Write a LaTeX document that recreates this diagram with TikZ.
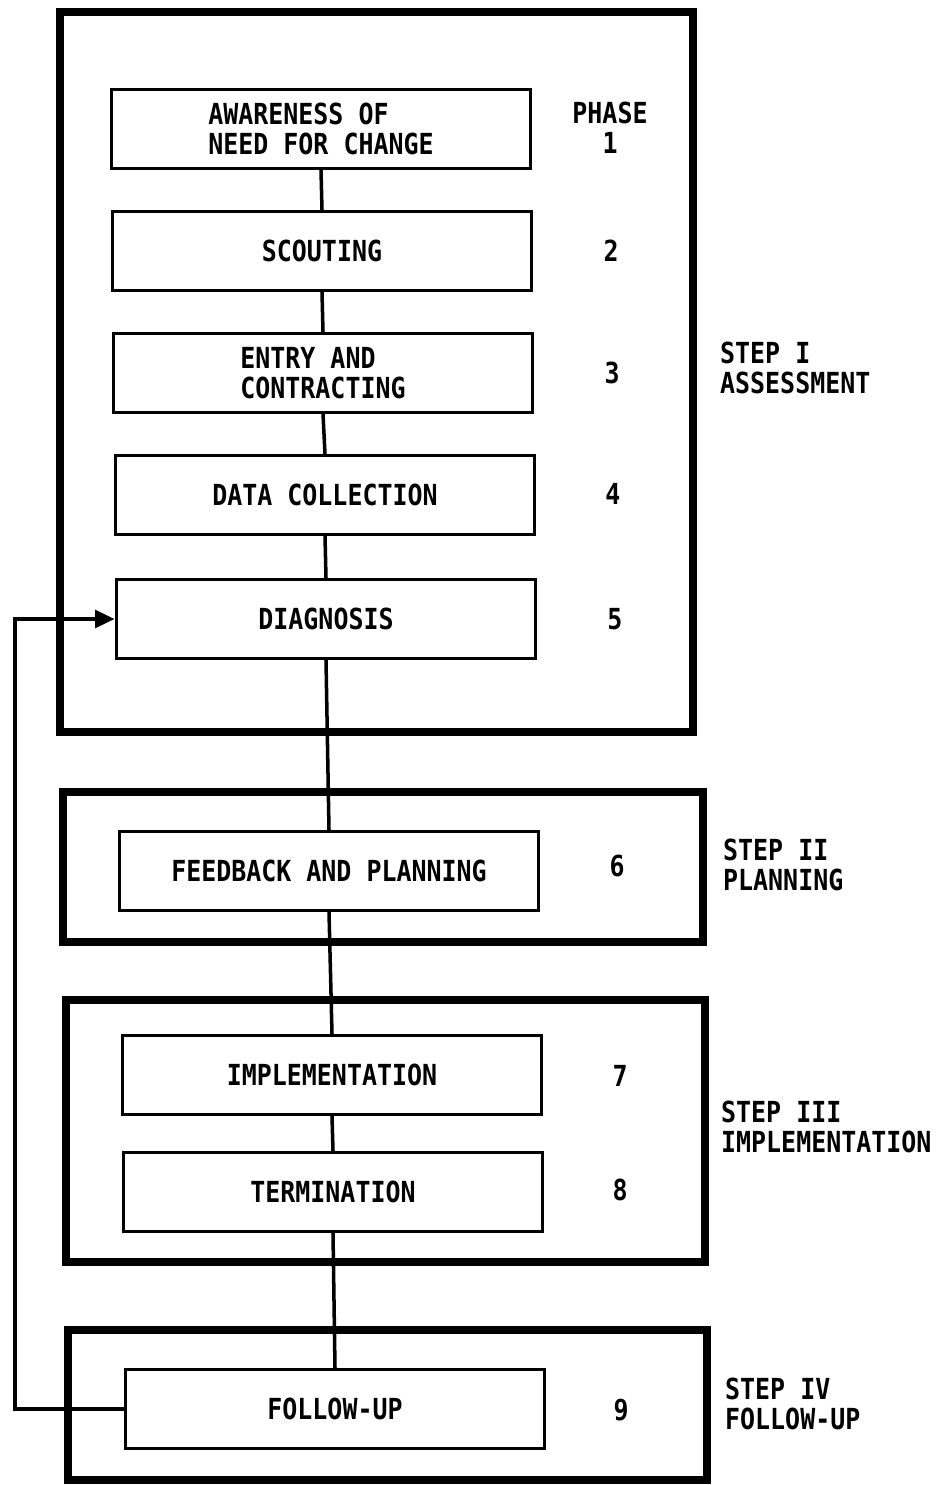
\documentclass[tikz,border=0pt]{standalone}
\usepackage{fontspec}
\newfontfamily\gothic[FakeStretch=0.86]{DejaVu Sans Mono}
\usetikzlibrary{arrows.meta}
\usetikzlibrary{positioning}

\begin{document}
\begin{tikzpicture}[
  x=0.02cm, y=-0.02cm,
  every node/.style={font=\gothic\bfseries\fontsize{16.5}{17}\selectfont},
  phasebox/.style={draw, line width=1.7pt, minimum width=8.4cm, minimum height=1.58cm, align=center},
  stepframe/.style={draw, line width=4.5pt},
  link/.style={draw, line width=2pt},
  steptext/.style={anchor=west, align=left}
]
\useasboundingbox (0,0) rectangle (937,1485);

% step frames
\draw[stepframe] (60,12) rectangle (693,732);
\draw[stepframe] (63,792) rectangle (703,942);
\draw[stepframe] (66,1000) rectangle (705,1262);
\draw[stepframe] (68,1330) rectangle (707,1480);

% phases
\node[phasebox, align=left] (aware) at (321,129) {AWARENESS OF\\NEED FOR CHANGE};
\node[phasebox] (scout) at (322,251) {SCOUTING};
\node[phasebox, align=left] (entry) at (323,373) {ENTRY AND\\CONTRACTING};
\node[phasebox] (data) at (325,495) {DATA COLLECTION};
\node[phasebox] (diag) at (326,619) {DIAGNOSIS};
\node[phasebox] (feed) at (329,871) {FEEDBACK AND PLANNING};
\node[phasebox] (impl) at (332,1075) {IMPLEMENTATION};
\node[phasebox] (term) at (333,1192) {TERMINATION};
\node[phasebox] (follow) at (335,1409) {FOLLOW-UP};

% phase numbers
\node[align=center] (n1) at (610,128) {PHASE\\1};
\node (n2) at (611,251) {2};
\node (n3) at (612,373) {3};
\node (n4) at (613,494) {4};
\node (n5) at (615,619) {5};
\node (n6) at (617,866) {6};
\node (n7) at (620,1076) {7};
\node (n8) at (620,1190) {8};
\node (n9) at (621,1410) {9};

% steps
\node[steptext] (s1) at (714,368) {STEP I\\ASSESSMENT};
\node[steptext] (s2) at (717,865) {STEP II\\PLANNING};
\node[steptext] (s3) at (715,1127) {STEP III\\IMPLEMENTATION};
\node[steptext] (s4) at (719,1404) {STEP IV\\FOLLOW-UP};

% links
\draw[link] (aware.south) -- (scout.north);
\draw[link] (scout.south) -- (entry.north);
\draw[link] (entry.south) -- (data.north);
\draw[link] (data.south) -- (diag.north);
\draw[link] (diag.south) -- (feed.north);
\draw[link] (feed.south) -- (impl.north);
\draw[link] (impl.south) -- (term.north);
\draw[link] (term.south) -- (follow.north);

% feedback loop
\coordinate (loop) at (15,1000);
\draw[link, -{Triangle[length=11pt,width=10pt]}] (follow.west) -| (loop) |- (diag.west);
\end{tikzpicture}
\end{document}
